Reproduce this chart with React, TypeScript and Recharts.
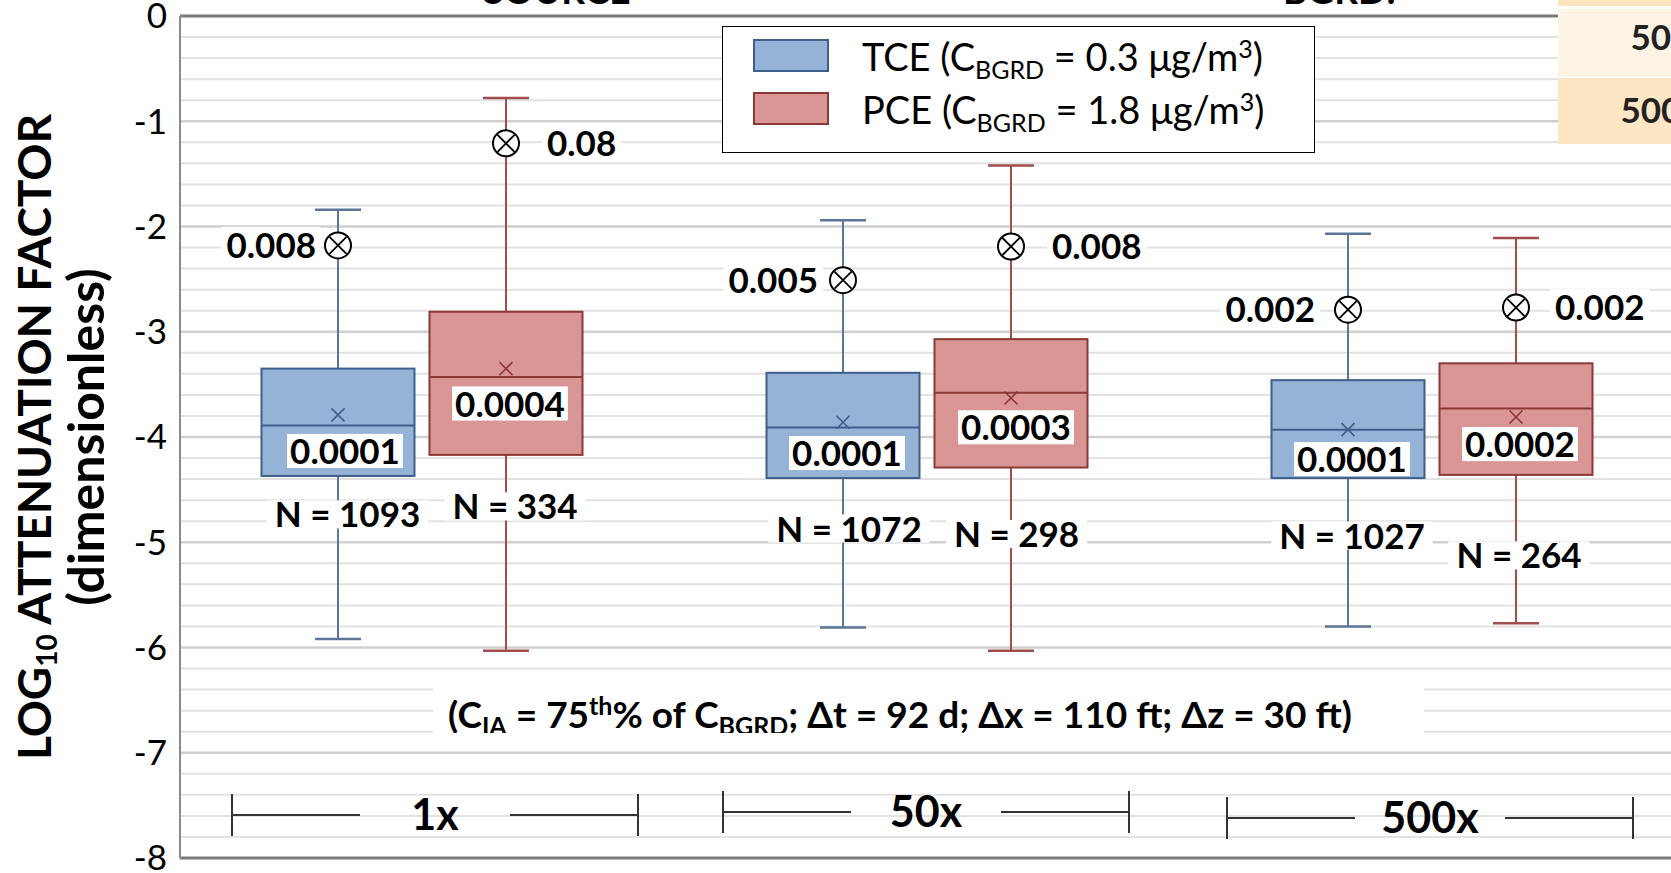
import React from 'react';
import { ComposedChart, Bar, XAxis, YAxis, CartesianGrid, ReferenceLine, Legend, Customized } from 'recharts';

const FONT = 'Lato, "Open Sans", "DejaVu Sans", sans-serif';

// ---------- data ----------
const categories = ['1x', '50x', '500x'];

const tceMin = [-5.92, -5.81, -5.8];
const tceQ1 = [-4.37, -4.39, -4.39];
const tceMedian = [-3.89, -3.91, -3.93];
const tceQ3 = [-3.35, -3.39, -3.46];
const tceMax = [-1.84, -1.94, -2.07];
const tceMean = [-3.79, -3.86, -3.93];
const tceMarker = [-2.18, -2.51, -2.79];
const tceMarkerLabels = ['0.008', '0.005', '0.002'];
const tceMedianLabels = ['0.0001', '0.0001', '0.0001'];
const tceN = [1093, 1072, 1027];

const pceMin = [-6.03, -6.03, -5.77];
const pceQ1 = [-4.17, -4.29, -4.36];
const pceMedian = [-3.43, -3.58, -3.73];
const pceQ3 = [-2.81, -3.07, -3.3];
const pceMax = [-0.78, -1.42, -2.11];
const pceMean = [-3.35, -3.63, -3.81];
const pceMarker = [-1.21, -2.19, -2.77];
const pceMarkerLabels = ['0.08', '0.008', '0.002'];
const pceMedianLabels = ['0.0004', '0.0003', '0.0002'];
const pceN = [334, 298, 264];

const yTicks = [-8, -7, -6, -5, -4, -3, -2, -1, 0];
const majorGrid = [-7, -6, -5, -4, -3, -2, -1];
const minorGrid: number[] = [];
for (let k = 1; k < 40; k++) if (k % 5 !== 0) minorGrid.push(-k / 5);

// ---------- layout (pixel offsets of annotations) ----------
const tceLayout = { markerDx: [-22, -25, -33], medianDx: [7, 4, 4], medianDy: [26, 26, 30], nDx: [9.5, 6, 4], nDy: [39, 51, 58] };
const pceLayout = { markerDx: [41, 41, 39], medianDx: [4, 5, 4], medianDy: [27, 35, 36], nDx: [9, 5.5, 3], nDy: [52, 67, 81] };
const bracketDx = [13, -1, -2];
const bracketDy = [0, -3, 3];

const TCE = {
  min: tceMin, q1: tceQ1, median: tceMedian, q3: tceQ3, max: tceMax, mean: tceMean, marker: tceMarker,
  markerLabels: tceMarkerLabels, medianLabels: tceMedianLabels, n: tceN, layout: tceLayout, side: 'left',
  fill: '#95B3D7', stroke: '#3E5F8A', whisker: '#5B7699',
};
const PCE = {
  min: pceMin, q1: pceQ1, median: pceMedian, q3: pceQ3, max: pceMax, mean: pceMean, marker: pceMarker,
  markerLabels: pceMarkerLabels, medianLabels: pceMedianLabels, n: pceN, layout: pceLayout, side: 'right',
  fill: '#D99694', stroke: '#8C3836', whisker: '#A04D4B',
};

const rows = categories.map((cat, idx) => ({
  cat,
  idx,
  tce: [tceMin[idx], tceMax[idx]],
  pce: [pceMin[idx], pceMax[idx]],
}));

let ctx: any = null;
function textWidth(t: string, size: number, weight = 700) {
  if (!ctx) ctx = document.createElement('canvas').getContext('2d');
  ctx.font = `${weight} ${size}px Lato`;
  return ctx.measureText(t).width;
}

const LBL = 35;
const CAP = LBL * 0.717;

const makeShape = (s: any) => (props: any) => {
  const { x, y, width, height } = props;
  const i = props.payload?.idx ?? props.index;
  const hi = s.max[i];
  const lo = s.min[i];
  const top = Math.min(y, y + height);
  const bot = Math.max(y, y + height);
  const py = (v: number) => top + ((hi - v) / (hi - lo)) * (bot - top);
  const cx = x + width / 2;
  const L = s.layout;
  const yMax = py(hi), yMin = py(lo), yQ3 = py(s.q3[i]), yQ1 = py(s.q1[i]);
  const yMed = py(s.median[i]), yMean = py(s.mean[i]), yMk = py(s.marker[i]);

  const mkText = s.markerLabels[i];
  const mkW = textWidth(mkText, LBL);
  const mkAnchor = cx + L.markerDx[i];
  const mkLeft = s.side === 'left' ? mkAnchor - mkW : mkAnchor;
  const mkBase = yMk + CAP / 2;

  const mdText = s.medianLabels[i];
  const mdW = textWidth(mdText, LBL);
  const mdX = cx + L.medianDx[i];
  const mdC = yMed + L.medianDy[i];

  const nText = `N = ${s.n[i]}`;
  const nW = textWidth(nText, LBL);
  const nX = cx + L.nDx[i];
  const nC = yQ1 + L.nDy[i];

  const r = 13;
  const d = 8.5;
  const m = 6.5;
  return (
    <g fontFamily={FONT}>
      <line x1={cx} x2={cx} y1={yMax} y2={yQ3} stroke={s.whisker} strokeWidth={2} />
      <line x1={cx} x2={cx} y1={yQ1} y2={yMin} stroke={s.whisker} strokeWidth={2} />
      <line x1={cx - 23} x2={cx + 23} y1={yMax} y2={yMax} stroke={s.whisker} strokeWidth={2.5} />
      <line x1={cx - 23} x2={cx + 23} y1={yMin} y2={yMin} stroke={s.whisker} strokeWidth={2.5} />
      <rect x={x} y={yQ3} width={width} height={yQ1 - yQ3} fill={s.fill} stroke={s.stroke} strokeWidth={2} />
      <line x1={x} x2={x + width} y1={yMed} y2={yMed} stroke={s.stroke} strokeWidth={2} />
      <path d={`M${cx - m},${yMean - m}L${cx + m},${yMean + m}M${cx - m},${yMean + m}L${cx + m},${yMean - m}`} stroke={s.stroke} strokeWidth={1.6} />
      <rect x={mkLeft - 5} y={yMk - CAP / 2 - 6} width={mkW + 10} height={CAP + 12} fill="#fff" />
      <text x={mkLeft} y={mkBase} fontSize={LBL} fontWeight={700} fill="#000">{mkText}</text>
      <circle cx={cx} cy={yMk} r={r} fill="#fff" stroke="#000" strokeWidth={2} />
      <path d={`M${cx - d},${yMk - d}L${cx + d},${yMk + d}M${cx - d},${yMk + d}L${cx + d},${yMk - d}`} stroke="#000" strokeWidth={1.8} />
      <rect x={mdX - mdW / 2 - 3} y={mdC - CAP / 2 - 5} width={mdW + 6} height={CAP + 9} fill="#fff" />
      <text x={mdX} y={mdC + CAP / 2} textAnchor="middle" fontSize={LBL} fontWeight={700} fill="#000">{mdText}</text>
      <rect x={nX - nW / 2 - 8} y={nC - CAP / 2 - 2} width={nW + 16} height={CAP + 3} fill="#fff" />
      <text x={nX} y={nC + CAP / 2} textAnchor="middle" fontSize={LBL} fontWeight={700} fill="#000">{nText}</text>
    </g>
  );
};

const GroupTick = (props: any) => {
  const { x, y, payload } = props;
  const i = categories.indexOf(payload.value);
  const cx = x + bracketDx[i];
  const yb = y - 43 + bracketDy[i];
  const half = 203;
  const inner = 75;
  return (
    <g fontFamily={FONT}>
      <line x1={cx - half} x2={cx - half} y1={yb - 21} y2={yb + 21} stroke="#333" strokeWidth={2} />
      <line x1={cx + half} x2={cx + half} y1={yb - 21} y2={yb + 21} stroke="#333" strokeWidth={2} />
      <line x1={cx - half} x2={cx - inner} y1={yb} y2={yb} stroke="#333" strokeWidth={2} />
      <line x1={cx + inner} x2={cx + half} y1={yb} y2={yb} stroke="#333" strokeWidth={2} />
      <text x={cx} y={yb + 15} textAnchor="middle" fontSize={43} fontWeight={700} fill="#000">{payload.value}</text>
    </g>
  );
};

const gridGen = (vals: number[]) => (args: any) => {
  const sc = args?.yAxis?.scale;
  if (typeof sc === 'function') return vals.map((v) => sc(v));
  const o = args.offset;
  return vals.map((v) => o.top + ((0 - v) / 8) * o.height);
};

const Annotations = () => (
  <g fontFamily={FONT}>
    <defs>
      <clipPath id="annClip">
        <rect x={433} y={672} width={991} height={61} />
      </clipPath>
    </defs>
    <rect x={433} y={674} width={991} height={70} fill="#fff" />
    <text clipPath="url(#annClip)" x={448} y={728} fontSize={37} fontWeight={700} fill="#000">
      (C<tspan fontSize={25} dy={7}>IA</tspan>
      <tspan dy={-7}> = 75</tspan>
      <tspan fontSize={25} dy={-13}>th</tspan>
      <tspan dy={13}>% of C</tspan>
      <tspan fontSize={25} dy={7}>BGRD</tspan>
      <tspan dy={-7}>; Δt = 92 d; Δx = 110 ft; Δz = 30 ft)</tspan>
    </text>
    <text transform="translate(51,437) rotate(-90)" textAnchor="middle" fontSize={46} fontWeight={700} fill="#000">
      LOG<tspan fontSize={28} dy={6}>10</tspan>
      <tspan dy={-6}> ATTENUATION FACTOR</tspan>
    </text>
    <text transform="translate(104,437) rotate(-90)" textAnchor="middle" fontSize={50} fontWeight={700} fill="#000">
      (dimensionless)
    </text>
    <text x={557} y={4} textAnchor="middle" fontSize={37} fontWeight={700} fill="#000">SOURCE</text>
    <text x={1283} y={4} fontSize={37} fontWeight={700} fill="#000">BGRD:</text>
  </g>
);

const LegendContent = () => {
  const row = (fill: string, stroke: string, top: number, label: React.ReactNode) => (
    <div style={{ position: 'absolute', left: 0, top, width: '100%', height: 40 }}>
      <div style={{ position: 'absolute', left: 30, top: 0, width: 72, height: 29, background: fill, border: `2px solid ${stroke}` }} />
      <div style={{ position: 'absolute', left: 139, top: -2, fontSize: 38, lineHeight: '38px', whiteSpace: 'nowrap', color: '#000' }}>{label}</div>
    </div>
  );
  const sub = { fontSize: 25, position: 'relative' as const, top: 8 };
  const sup = { fontSize: 25, position: 'relative' as const, top: -13 };
  return (
    <div style={{ position: 'relative', width: 591, height: 125, border: '1.5px solid #000', background: '#fff', fontFamily: FONT }}>
      {row('#95B3D7', '#3E5F8A', 12, <span>TCE (C<span style={sub}>BGRD</span> = 0.3 μg/m<span style={sup}>3</span>)</span>)}
      {row('#D99694', '#8C3836', 65, <span>PCE (C<span style={sub}>BGRD</span> = 1.8 μg/m<span style={sup}>3</span>)</span>)}
    </div>
  );
};

export default function App() {
  return (
    <div style={{ position: 'absolute', left: 0, top: 0, width: 1671, height: 873, overflow: 'hidden', background: '#fff', fontFamily: FONT }}>
      <ComposedChart width={1671} height={873} data={rows} margin={{ top: 16, right: 0, bottom: 0, left: 0 }} barGap={15} barSize={153}>
        <CartesianGrid vertical={false} stroke="#E2E2E2" strokeWidth={2} horizontalCoordinatesGenerator={gridGen(minorGrid)} />
        <CartesianGrid vertical={false} stroke="#CFCFCF" strokeWidth={2.5} horizontalCoordinatesGenerator={gridGen(majorGrid)} />
        <XAxis dataKey="cat" height={15} padding={{ left: -10.5, right: -13.5 }} tickSize={0} tickMargin={0} tickLine={false}
          axisLine={{ stroke: '#7A7A7A', strokeWidth: 3 }} tick={<GroupTick />} interval={0} />
        <YAxis type="number" domain={[-8, 0]} ticks={yTicks} interval={0} width={180} tickLine={false} tickSize={0} tickMargin={13}
          axisLine={{ stroke: '#8A8A8A', strokeWidth: 2 }} tick={{ fill: '#000', fontSize: 35, fontFamily: FONT }} allowDataOverflow />
        <ReferenceLine y={0} stroke="#7A7A7A" strokeWidth={3} />
        <Customized component={<Annotations />} />
        <Bar dataKey="tce" name="TCE" fill="#95B3D7" isAnimationActive={false} shape={makeShape(TCE)} />
        <Bar dataKey="pce" name="PCE" fill="#D99694" isAnimationActive={false} shape={makeShape(PCE)} />
        <Legend layout="vertical" align="center" verticalAlign="middle" content={<LegendContent />}
          wrapperStyle={{ position: 'absolute', left: 722, top: 26, width: 594, height: 128 }} />
      </ComposedChart>
      <div style={{ position: 'absolute', left: 1558, top: 0, width: 130, height: 6, background: '#FCE4BE' }} />
      <div style={{ position: 'absolute', left: 1558, top: 9, width: 130, height: 68, background: '#FEF4E5' }} />
      <div style={{ position: 'absolute', left: 1558, top: 78, width: 130, height: 66, background: '#FCE6C4' }} />
      <div style={{ position: 'absolute', left: 1560, top: 19, width: 200, textAlign: 'center', fontSize: 35, lineHeight: '35px', fontWeight: 700, color: '#222' }}>50x</div>
      <div style={{ position: 'absolute', left: 1560, top: 92, width: 200, textAlign: 'center', fontSize: 35, lineHeight: '35px', fontWeight: 700, color: '#222' }}>500x</div>
    </div>
  );
}
